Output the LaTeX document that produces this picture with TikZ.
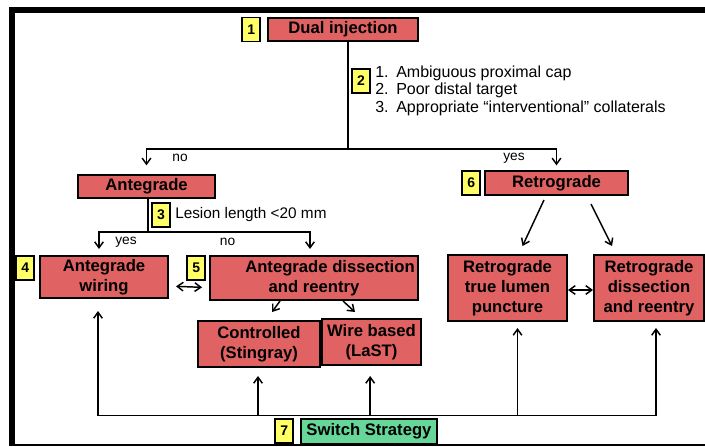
\documentclass[tikz,border=0pt]{standalone}
\usepackage{fontspec}
\setmainfont{Liberation Sans}
\usetikzlibrary{arrows.meta,positioning}
\definecolor{boxred}{RGB}{224,98,98}
\definecolor{tagyellow}{RGB}{255,255,102}
\definecolor{switchgreen}{RGB}{102,214,153}
\begin{document}
\begin{tikzpicture}[x=.75pt,y=-.75pt,
 box/.style={draw=black,line width=1.5pt,fill=boxred,align=center,inner xsep=2pt,inner ysep=1pt,font=\fontsize{12.5}{15}\selectfont\bfseries},
 tag/.style={draw=black,line width=1.2pt,fill=tagyellow,minimum width=13.5pt,minimum height=18pt,inner sep=0pt,font=\fontsize{10.5}{12}\selectfont\bfseries},
 lbl/.style={inner sep=0pt,font=\fontsize{10.3}{12}\selectfont},
 note/.style={inner sep=0pt,anchor=west,align=left,font=\fontsize{12}{13.1}\selectfont},
 conn/.style={line width=1.1pt},
 arr/.style={conn,-{Straight Barb[length=4.5pt,width=6.5pt]}},
 darr/.style={conn,{Straight Barb[length=4.5pt,width=6.5pt]}-{Straight Barb[length=4.5pt,width=6.5pt]}}]
\useasboundingbox (0,0) rectangle (705,446);
\draw[line width=4.5pt] (9,10) -- (705,10);
\draw[line width=4.2pt] (12,7) -- (12,446);
\draw[line width=1.5pt] (12,444.5) -- (705,444.5);

\node[box,minimum width=112.5pt,minimum height=17.25pt] (dual) at (343,29.5) {Dual injection};
\node[tag,left=4.5pt of dual] (t1) {1};
\node[box,minimum width=102.75pt,minimum height=17.25pt] (ante) at (146.5,186.5) {Antegrade};
\node[box,minimum width=107.25pt,minimum height=18pt] (retro) at (556.5,183) {Retrograde};
\node[tag,left=2.25pt of retro] (t6) {6};
\node[box,minimum width=96pt,minimum height=31.5pt] (antwire) at (104,277) {Antegrade\\wiring};
\node[tag,anchor=north east] (t4) at ([xshift=-3pt]antwire.north west) {4};
\node[box,minimum width=156pt,minimum height=33pt] (antdiss) at (314,278) {\hspace*{24pt}Antegrade dissection\\and reentry};
\node[tag,anchor=north east] (t5) at ([xshift=-2.25pt]antdiss.north west) {5};
\node[box,minimum width=91.5pt,minimum height=34.5pt] (ctrl) at (259,344) {Controlled\\(Stingray)};
\node[box,minimum width=74.25pt,minimum height=34.5pt] (wire) at (371.5,342) {Wire based\\(LaST)};
\node[box,minimum width=89.25pt,minimum height=49.5pt] (rtl) at (507.5,288) {Retrograde\\true lumen\\puncture};
\node[box,minimum width=82.5pt,minimum height=49.5pt] (rdr) at (649,288) {Retrograde\\dissection\\and reentry};
\node[box,fill=switchgreen,minimum width=102pt,minimum height=18.75pt] (switch) at (369,431) {Switch Strategy};
\node[tag,left=4.5pt of switch] (t7) {7};

\node[tag] (t2) at (361,81) {2};
\node[note] (crit) at (375,90.5) {\makebox[15.75pt][l]{1.}Ambiguous proximal cap\\\makebox[15.75pt][l]{2.}Poor distal target\\\makebox[15.75pt][l]{3.}Appropriate ``interventional'' collaterals};
\node[tag] (t3) at (161,215) {3};
\node[note,font=\fontsize{11.5}{13}\selectfont] (len) at (175,215) {Lesion length <20 mm};
\node[lbl] (no1) at (180,158) {no};
\node[lbl] (yes1) at (514,158) {yes};
\node[lbl] (yes2) at (126,242) {yes};
\node[lbl] (no2) at (227.5,242) {no};

\coordinate (split1) at (348,149);
\draw[conn] (dual.south -| split1) -- (split1);
\draw[arr,shorten >=6.5pt] (split1) -| (ante.north);
\draw[arr,shorten >=3.5pt] (split1) -| (retro.north);
\coordinate (split2) at (148,232);
\draw[conn] (ante.south -| split2) -- (split2);
\draw[arr,shorten >=4.5pt] (split2) -| ([xshift=-3.75pt]antwire.north);
\draw[arr,shorten >=4.5pt] (split2) -| ([xshift=-3pt]antdiss.north);
\draw[darr] ([xshift=5.25pt,yshift=-7pt]antwire.east) -- ([xshift=-5.25pt,yshift=-7pt]antdiss.west);
\draw[arr] ([xshift=-25.5pt]antdiss.south) -- ([xshift=9.75pt,yshift=6pt]ctrl.north);
\draw[arr] ([xshift=21.75pt]antdiss.south) -- ([xshift=-12.4pt,yshift=4.5pt]wire.north);
\draw[arr] ([xshift=-9.4pt,yshift=-3pt]retro.south) -- ([xshift=11.25pt,yshift=6pt]rtl.north);
\draw[arr] ([xshift=25.9pt,yshift=-6pt]retro.south) -- ([xshift=-27.75pt,yshift=6pt]rdr.north);
\draw[darr] ([yshift=-1.5pt]rtl.east) -- ([yshift=-1.5pt]rdr.west);
\coordinate (bus) at ([yshift=1.5pt]switch.north);
\draw[arr,shorten >=9pt] (bus) -| ([xshift=-4.5pt]antwire.south);
\draw[arr,shorten >=6pt] (bus) -| ([xshift=-.75pt]ctrl.south);
\draw[arr,shorten >=7.5pt] (bus) -| ([xshift=-1pt]wire.south);
\draw[arr,shorten >=4.5pt] (bus) -| ([xshift=7.5pt]rtl.south);
\draw[arr,shorten >=4.5pt] (bus) -| ([xshift=5.25pt]rdr.south);
\end{tikzpicture}
\end{document}
